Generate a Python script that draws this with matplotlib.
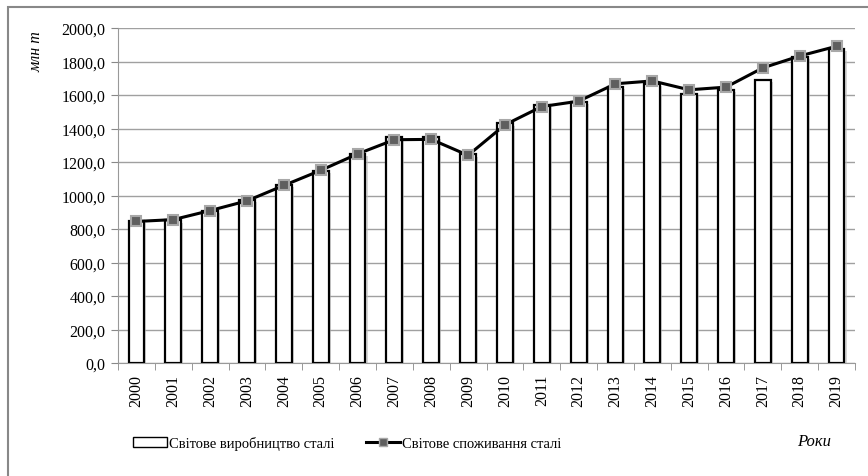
import numpy as np
import matplotlib.pyplot as plt
import matplotlib.patheffects as pe
from matplotlib.patches import Rectangle
from matplotlib.lines import Line2D

# world steel production and consumption, mln t
years = [str(y) for y in range(2000, 2020)]
production = [849, 851, 905, 971, 1063, 1148, 1250, 1351, 1347, 1245,
              1430, 1538, 1560, 1649, 1667, 1605, 1631, 1690, 1825, 1875]
consumption = [845, 856, 910, 968, 1060, 1150, 1248, 1333, 1335, 1240,
               1422, 1531, 1563, 1667, 1684, 1631, 1647, 1762, 1833, 1891]
yticks = np.arange(0, 2001, 200)

plt.rcParams['font.family'] = ['Liberation Serif', 'DejaVu Serif']

fig = plt.figure(figsize=(8.68, 4.77), dpi=100)
W, H = 868, 477
ax = fig.add_axes([118 / W, 1 - 364 / H, (855 - 118) / W, (364 - 29) / H])

x = np.arange(len(years))
shadow = [pe.SimplePatchShadow(offset=(1.5, -1.5), shadow_rgbFace='#bbbbbb', alpha=0.6), pe.Normal()]
ax.bar(x, production, width=0.43, color='white', edgecolor='black', linewidth=1.6,
       zorder=3, path_effects=shadow)
ax.plot(x, consumption, color='black', linewidth=2.2, zorder=4,
        marker='s', markersize=6.5, markerfacecolor='#5f5f5f',
        markeredgecolor='#a8a8a8', markeredgewidth=1.5)

ax.set_xlim(-0.5, len(years) - 0.5)
ax.set_ylim(0, 2000)
ax.set_yticks(yticks)
ax.set_yticklabels([f'{v:.1f}'.replace('.', ',') for v in yticks], fontsize=11.5)
ax.set_xticks(x)
ax.set_xticklabels(years, rotation=90, fontsize=11.5)
ax.set_xticks(np.arange(-0.5, len(years), 1), minor=True)
ax.tick_params(axis='x', which='major', length=0, pad=8)
ax.tick_params(axis='x', which='minor', length=5, color='#888888')
ax.tick_params(axis='y', length=5, color='#888888', pad=4)
ax.grid(axis='y', color='#a0a0a0', linewidth=1)
ax.set_axisbelow(True)
for s in ['top', 'right']:
    ax.spines[s].set_visible(False)
for s in ['left', 'bottom']:
    ax.spines[s].set_color('#999999')

# outer chart border
fig.patches.append(Rectangle((8 / W, -0.05), 1.1, 1 - 8 / H + 0.05, transform=fig.transFigure,
                             fill=False, edgecolor='#888888', linewidth=1.5))

fig.text(36 / W, 1 - 52 / H, 'млн т', rotation=90, style='italic', fontsize=11.5,
         ha='center', va='center')
fig.text(814 / W, 1 - 442 / H, 'Роки', style='italic', fontsize=12,
         ha='center', va='center')

handles = [Rectangle((0, 0), 1, 1, facecolor='white', edgecolor='black', linewidth=1),
           Line2D([], [], color='black', linewidth=2.2, marker='s', markersize=6,
                  markerfacecolor='#5f5f5f', markeredgecolor='#a8a8a8')]
fig.legend(handles, ['Світове виробництво сталі', 'Світове споживання сталі'],
           loc='center left', bbox_to_anchor=(120 / W, 1 - 444 / H), ncol=2,
           frameon=False, fontsize=10.5, handlelength=2.3, handletextpad=0.15,
           columnspacing=2.2)

fig.savefig('out.png', dpi=100)
